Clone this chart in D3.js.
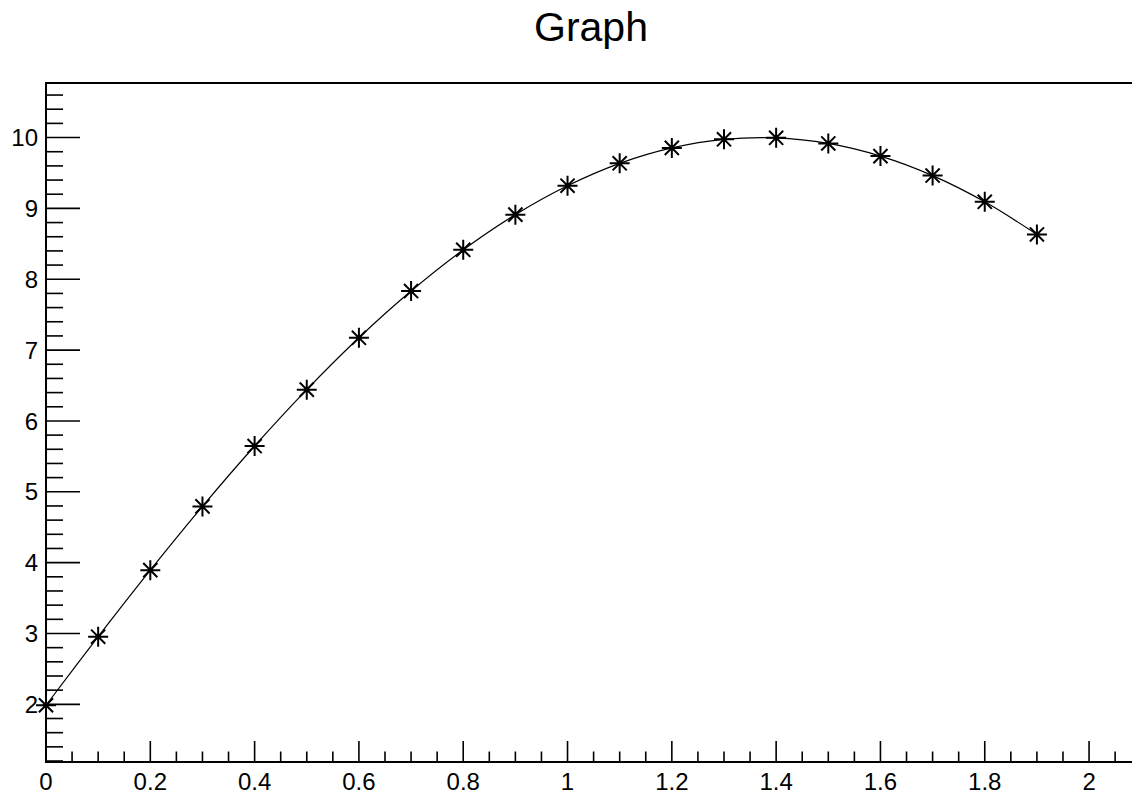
<!DOCTYPE html>
<html><head><meta charset="utf-8">
<script src="https://cdn.jsdelivr.net/npm/d3@7"></script>
<style>body{margin:0;background:#fff;}svg{display:block;font-family:"Liberation Sans",Arial,sans-serif;}</style>
</head><body>
<script>
const title = "Graph";
const xValues = [0,0.1,0.2,0.3,0.4,0.5,0.6,0.7,0.8,0.9,1.0,1.1,1.2,1.3,1.4,1.5,1.6,1.7,1.8,1.9];
const yValues = [1.987,2.955,3.894,4.794,5.646,6.442,7.174,7.833,8.415,8.912,9.320,9.636,9.854,9.975,9.996,9.917,9.738,9.463,9.093,8.632];
const xTickLabels = [0,0.2,0.4,0.6,0.8,1,1.2,1.4,1.6,1.8,2];
const yTickLabels = [2,3,4,5,6,7,8,9,10];
const xDomain = [0, 2.09];
const yDomain = [1.186, 10.77];

const W = 1132, H = 796;
const L = 46, R = 1136, T = 83, B = 762;
const svg = d3.select("body").append("svg").attr("width", W).attr("height", H);
const x = d3.scaleLinear().domain(xDomain).range([L, R]);
const y = d3.scaleLinear().domain(yDomain).range([B, T]);

// frame
svg.append("rect").attr("x", L).attr("y", T).attr("width", R - L).attr("height", B - T)
  .attr("fill", "none").attr("stroke", "#000").attr("stroke-width", 2);

// ticks: y minor every 0.2, major every 1; x minor every 0.05, major every 0.2
const g = svg.append("g").attr("stroke", "#000").attr("stroke-width", 1.6);
for (let i = Math.ceil(yDomain[0] * 5); i / 5 <= yDomain[1]; i++) {
  const v = i / 5, isMajor = i % 5 === 0;
  g.append("line").attr("x1", L).attr("x2", L + (isMajor ? 34 : 17))
    .attr("y1", y(v)).attr("y2", y(v));
}
for (let i = 0; i / 20 <= xDomain[1]; i++) {
  const v = i / 20, isMajor = i % 4 === 0;
  g.append("line").attr("y1", B).attr("y2", B - (isMajor ? 21 : 10.5))
    .attr("x1", x(v)).attr("x2", x(v));
}

// labels
svg.append("g").selectAll("text").data(yTickLabels).join("text")
  .attr("x", L - 8).attr("y", d => y(d)).attr("dy", "0.36em")
  .attr("text-anchor", "end").attr("font-size", 24).text(d => d);
svg.append("g").selectAll("text").data(xTickLabels).join("text")
  .attr("x", d => x(d)).attr("y", 790)
  .attr("text-anchor", "middle").attr("font-size", 24).text(d => d);

svg.append("text").attr("x", (L + R) / 2).attr("y", 41).attr("text-anchor", "middle")
  .attr("font-size", 41).text(title);

// curve
const pts = xValues.map((v, i) => [v, yValues[i]]);
svg.append("path").datum(pts)
  .attr("d", d3.line().x(d => x(d[0])).y(d => y(d[1])).curve(d3.curveCatmullRom))
  .attr("fill", "none").attr("stroke", "#000").attr("stroke-width", 1.2);

// markers (asterisk)
const r = 10, rd = r * 0.707;
const mk = svg.append("g").attr("stroke", "#000").attr("stroke-width", 2);
pts.forEach(p => {
  const cx = x(p[0]), cy = y(p[1]);
  mk.append("path").attr("d",
    `M${cx - r},${cy}H${cx + r}M${cx},${cy - r}V${cy + r}` +
    `M${cx - rd},${cy - rd}L${cx + rd},${cy + rd}M${cx - rd},${cy + rd}L${cx + rd},${cy - rd}`);
  mk.append("circle").attr("cx", cx).attr("cy", cy).attr("r", 2.5).attr("fill", "#000").attr("stroke", "none");
});
</script>
</body></html>
